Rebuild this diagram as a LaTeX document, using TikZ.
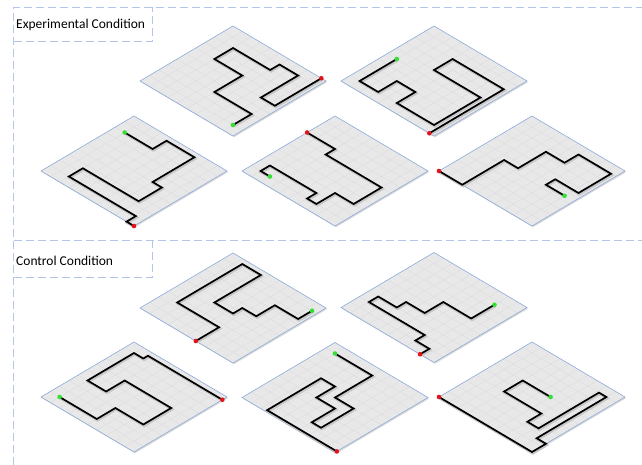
\documentclass[tikz,border=0pt]{standalone}
\usepackage{fontspec}
\setmainfont{Carlito}
\usetikzlibrary{shadows}

\definecolor{framedash}{HTML}{B4C6E7}
\definecolor{plategray}{HTML}{E8E8E8}
\definecolor{gridgray}{HTML}{DBDBDB}
\definecolor{plateedge}{HTML}{8EA9DB}
\definecolor{startred}{HTML}{E3121B}
\definecolor{endgreen}{HTML}{33E033}

% Plate with a 10x10 grid, in the local (a,b) frame of a scope
\newcommand{\gridplate}{%
    \fill[plate] (0,0) -- (10,0) -- (10,10) -- (0,10) -- cycle;
    \foreach \k in {1,...,9} {
        \draw[gridline] (\k,0) -- (\k,10);
        \draw[gridline] (0,\k) -- (10,\k);
    }
    \draw[plateborder] (0,0) -- (10,0) -- (10,10) -- (0,10) -- cycle;
}
% Route with its soft shadow
\newcommand{\route}[1]{%
    \draw[routeshadow] #1;
    \draw[routeline] #1;
}

\begin{document}
\begin{tikzpicture}[
    x=1pt, y=1pt,
    % Styles
    plateframe/.style={x={(9.3pt,5.5pt)}, y={(9.3pt,-5.5pt)}},
    plate/.style={
        fill=plategray,
        drop shadow={shadow xshift=1pt, shadow yshift=-1.2pt, fill=black, opacity=0.15}
    },
    gridline/.style={draw=gridgray, line width=0.3pt},
    plateborder/.style={draw=plateedge, line width=0.6pt},
    routeline/.style={draw=black, line width=1.7pt, line join=miter},
    routeshadow/.style={draw=black!22, line width=2.6pt, shift={(0.8pt,-1.3pt)}},
    startdot/.style={circle, fill=startred, inner sep=0pt, minimum size=4.6pt},
    enddot/.style={circle, fill=endgreen, inner sep=0pt, minimum size=4.6pt},
    framedashed/.style={draw=framedash, line width=1pt, dash pattern=on 8pt off 4pt},
    condlabel/.style={font=\fontsize{13.5}{16}\selectfont, text=black, inner sep=1pt, anchor=west},
]

\useasboundingbox (0,0) rectangle (642,-465);

%--- Dashed frame ---%
\draw[framedashed] (13.5,-465) -- (13.5,-7.5) -- (642,-7.5);
\draw[framedashed] (13.5,-42) -- (152,-42) -- (152,-7.5);
\draw[framedashed] (13.5,-240.7) -- (642,-240.7);
\draw[framedashed] (13.5,-277.7) -- (152,-277.7) -- (152,-240.7);

\node[condlabel] (explabel)  at (15,-25)    {Experimental Condition};
\node[condlabel] (ctrllabel) at (15,-260.5) {Control Condition};

%--- Experimental condition ---%
% Plate frames: left corner of each plate, a = up-right, b = down-right

% Top left
\begin{scope}[shift={(140,-81)}, plateframe]
    \gridplate
    \route{(10,9.5) -- (5,9.5) -- (5,8) -- (9,8) -- (9,6) -- (8,6) -- (8,2) -- (6,2) -- (6,5) -- (3,5) -- (3,9) -- (1,9)}
    \node[startdot] (e1start) at (10,9.5) {};
    \node[enddot]   (e1end)   at (1,9)    {};
\end{scope}

% Top right
\begin{scope}[shift={(341,-81)}, plateframe]
    \gridplate
    \route{(0,9.5) -- (8,9.5) -- (8,4) -- (6,4) -- (6,9) -- (1,9) -- (1,5) -- (3,5) -- (3,3) -- (1,3) -- (1,1) -- (5,1)}
    \node[startdot] (e2start) at (0,9.5) {};
    \node[enddot]   (e2end)   at (5,1)   {};
\end{scope}

% Bottom left
\begin{scope}[shift={(41,-171)}, plateframe]
    \gridplate
    \route{(0,10) -- (0,9.2) -- (1,9.2) -- (1,2) -- (2.5,2) -- (2.5,8) -- (5,8) -- (5,7) -- (9.5,7) -- (9.5,4) -- (8,4) -- (8,1)}
    \node[startdot] (e3start) at (0,10) {};
    \node[enddot]   (e3end)   at (8,1)  {};
\end{scope}

% Bottom middle
\begin{scope}[shift={(242,-171)}, plateframe]
    \gridplate
    \route{(7,0) -- (7,3) -- (6,3) -- (6,9) -- (3,9) -- (3,7) -- (1,7) -- (1,6) -- (2,6) -- (2,1) -- (1,1) -- (1,2)}
    \node[startdot] (e4start) at (7,0) {};
    \node[enddot]   (e4end)   at (1,2) {};
\end{scope}

% Bottom right
\begin{scope}[shift={(439,-171)}, plateframe]
    \gridplate
    \route{(0,0) -- (0,2.5) -- (4.5,2.5) -- (4.5,4) -- (7.5,4) -- (7.5,6) -- (9,6) -- (9,9.5) -- (5.5,9.5) -- (5.5,7) -- (4.5,7) -- (4.5,9)}
    \node[startdot] (e5start) at (0,0)   {};
    \node[enddot]   (e5end)   at (4.5,9) {};
\end{scope}

%--- Control condition ---%

% Top left
\begin{scope}[shift={(140,-308)}, plateframe]
    \gridplate
    \route{(0,6) -- (2.5,6) -- (2.5,1.5) -- (9.5,1.5) -- (9.5,3.5) -- (4.5,3.5) -- (4.5,5.5) -- (5.5,5.5) -- (5.5,7) -- (7.5,7) -- (7.5,9.5) -- (9,9.5)}
    \node[startdot] (c1start) at (0,6)   {};
    \node[enddot]   (c1end)   at (9,9.5) {};
\end{scope}

% Top right
\begin{scope}[shift={(341,-307.5)}, plateframe]
    \gridplate
    \route{(0,8.5) -- (1,8.5) -- (1,7) -- (2,7) -- (2,1) -- (3,1) -- (3,3) -- (4,3) -- (4,5) -- (6,5) -- (6,8) -- (8.5,8)}
    \node[startdot] (c2start) at (0,8.5) {};
    \node[enddot]   (c2end)   at (8.5,8) {};
\end{scope}

% Bottom left
\begin{scope}[shift={(41,-397)}, plateframe]
    \gridplate
    \route{(9.5,10) -- (9.5,2) -- (9,2) -- (9,1) -- (4,1) -- (4,3) -- (6,3) -- (6,8) -- (3,8) -- (3,5) -- (1,5) -- (1,1)}
    \node[startdot] (c3start) at (9.5,10) {};
    \node[enddot]   (c3end)   at (1,1)    {};
\end{scope}

% Bottom middle
\begin{scope}[shift={(242,-397.5)}, plateframe]
    \gridplate
    \route{(0.2,10) -- (0.2,2.5) -- (6,2.5) -- (6,4) -- (4,4) -- (4,6) -- (1.5,6) -- (1.5,7) -- (5,7) -- (5,5) -- (9,5) -- (9,1)}
    \node[startdot] (c4start) at (0.2,10) {};
    \node[enddot]   (c4end)   at (9,1)    {};
\end{scope}

% Bottom right
\begin{scope}[shift={(439,-397)}, plateframe]
    \gridplate
    \route{(0,0) -- (0,10) -- (1.5,10) -- (1.5,9) -- (9,9) -- (9,8.2) -- (2.5,8.2) -- (2.5,7) -- (4,7) -- (4,3) -- (6,3) -- (6,6)}
    \node[startdot] (c5start) at (0,0) {};
    \node[enddot]   (c5end)   at (6,6) {};
\end{scope}

\end{tikzpicture}
\end{document}
